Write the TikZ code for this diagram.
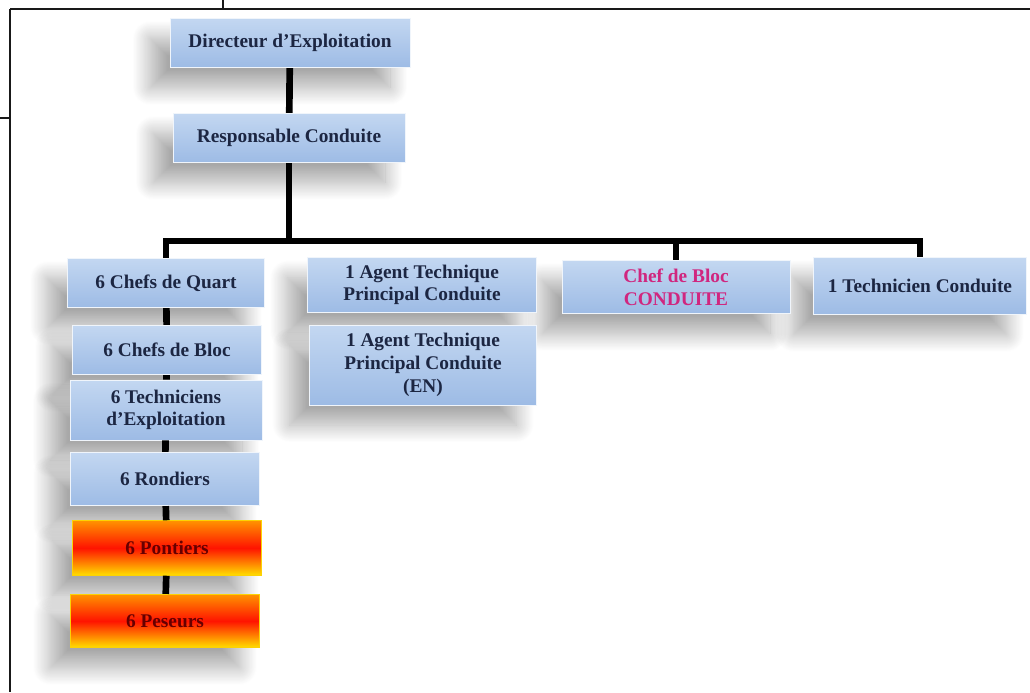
\documentclass[tikz,border=0pt]{standalone}
\usepackage{fontspec}
\setmainfont{Liberation Serif}
\usetikzlibrary{shadows.blur}
\definecolor{posteTop}{HTML}{C3D7F1}
\definecolor{posteBot}{HTML}{9DBBE5}
\definecolor{encre}{HTML}{1C2642}
\definecolor{rose}{HTML}{D0267F}
\tikzset{
  poste/.style={rectangle, top color=posteTop, bottom color=posteBot,
    draw=white!85!posteBot, line width=0.6pt, align=center,
    text=encre, font=\fontsize{14.5}{17}\selectfont\bfseries,
    inner sep=2pt,
    blur shadow={shadow xshift=-15pt, shadow yshift=-15pt,
      shadow blur radius=13pt, shadow blur steps=24, shadow opacity=34}},
  chaud/.style={poste, top color=orange!85!yellow, bottom color=yellow!75!orange,
    middle color=red!85!orange, draw=yellow!70!orange, text=red!40!black},
  lien/.style={line width=5pt, draw=black},
  cadre/.style={line width=1.5pt, draw=black!90}
}
\begin{document}
\begin{tikzpicture}[x=0.75pt, y=-0.75pt]
  \useasboundingbox (0,0) rectangle (1030,692);
  % cadre de la page
  \draw[cadre] (10,9) -- (1030,9);
  \draw[cadre] (10,9) -- (10,692);
  \draw[cadre] (223,0) -- (223,9);
  \draw[cadre] (0,118) -- (10,118);
  % postes (de droite a gauche pour les ombres)
  \draw
    (920,286) node[poste, minimum width=160pt, minimum height=43pt] (tcond) {1 Technicien Conduite}
    (676,287) node[poste, minimum width=171pt, minimum height=40pt, text=rose] (chef) {Chef de Bloc\\CONDUITE}
    (422,285) node[poste, minimum width=172pt, minimum height=41pt] (atp) {1 Agent Technique\\Principal Conduite}
    (423,365) node[poste, minimum width=170pt, minimum height=60pt] (aten) {1 Agent Technique\\Principal Conduite\\(EN)}
    (290,43) node[poste, minimum width=180pt, minimum height=37pt] (dir) {Directeur d’Exploitation}
    (289,138) node[poste, minimum width=174pt, minimum height=37pt] (resp) {Responsable Conduite}
    (166,283) node[poste, minimum width=148pt, minimum height=37pt] (quart) {6 Chefs de Quart}
    (167,350) node[poste, minimum width=142pt, minimum height=37pt] (bloc) {6 Chefs de Bloc}
    (166,410) node[poste, minimum width=144pt, minimum height=45pt] (tech) {6 Techniciens\\d’Exploitation}
    (165,479) node[poste, minimum width=142pt, minimum height=40pt] (rond) {6 Rondiers}
    (167,548) node[chaud, minimum width=142pt, minimum height=41pt] (pont) {6 Pontiers}
    (165,621) node[chaud, minimum width=142pt, minimum height=40pt] (pes) {6 Peseurs};
  \coordinate (barL) at (166,241);
  \coordinate (barR) at (920,241);
  \begin{scope}[lien]
    \draw (dir) to (resp);
    \draw (resp) to (resp |- barL);
    \draw[line cap=rect] (barL) to (barR);
    \draw (barL) to (quart);
    \draw (chef |- barL) to (chef);
    \draw (barR) to (tcond);
    \draw (quart) to (bloc);
    \draw (bloc) to (tech);
    \draw (tech) to (rond);
    \draw (rond) to (pont);
    \draw (pont) to (pes);
  \end{scope}
\end{tikzpicture}
\end{document}
